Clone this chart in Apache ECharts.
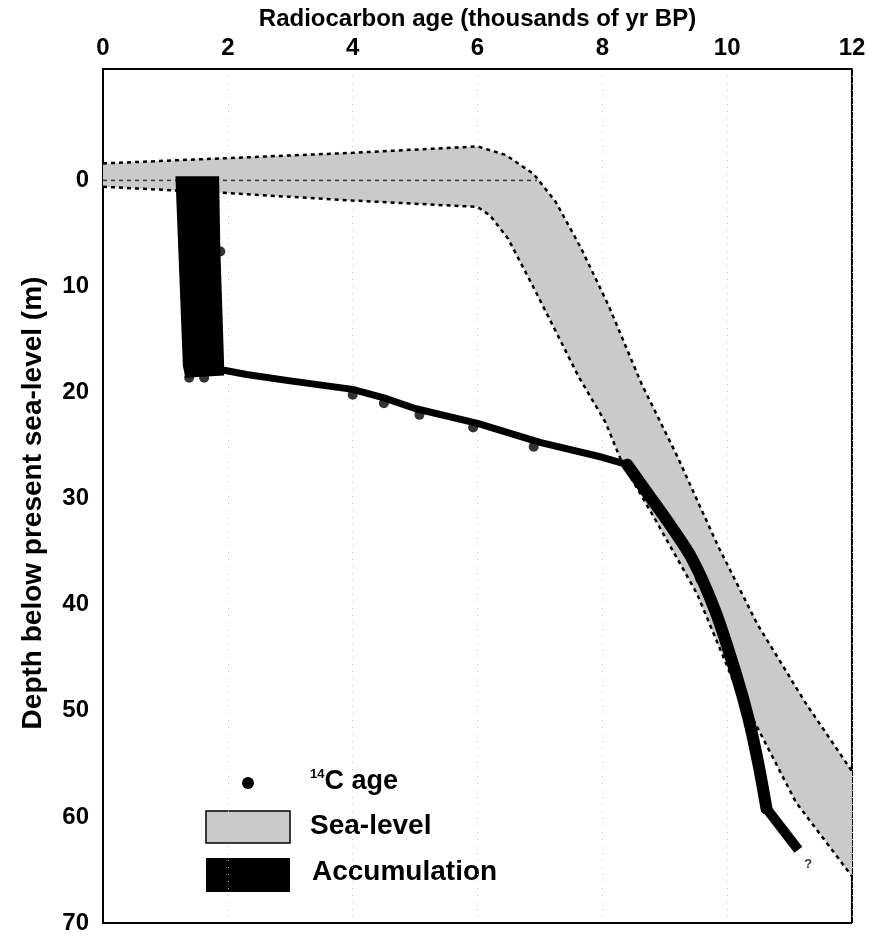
<!DOCTYPE html>
<html>
<head>
<meta charset="utf-8">
<script src="https://cdn.jsdelivr.net/npm/echarts@6/dist/echarts.min.js"></script>
<style>
  html, body { margin: 0; padding: 0; background: #fff; }
  #chart { width: 874px; height: 943px; }
</style>
</head>
<body>
<div id="chart"></div>
<script>
// x = radiocarbon age (kyr BP), y = depth below present sea-level (m)
var xTicks = [0, 2, 4, 6, 8, 10, 12];
var yTicks = [0, 10, 20, 30, 40, 50, 60, 70];

// sea-level envelope
var seaUpper = [[0, -1.6], [2, -2.1], [4, -2.6], [6, -3.2], [6.45, -2.4], [6.9, -0.6], [7.25, 2], [7.66, 6.4],
    [8.1, 11.8], [8.63, 19.2], [9.2, 26], [9.84, 34.3], [10.48, 41.8], [11.25, 49.2], [12, 55.7]];
var seaLower = [[0, 0.6], [2, 1.2], [4, 1.9], [6, 2.5], [6.2, 3.3], [6.49, 5.5], [6.89, 10], [7.62, 18.5],
    [8.05, 22.8], [8.3, 26.4], [8.87, 32.2], [9.52, 39], [10.1, 47.2], [11.1, 58.6], [12, 65.6]];
var seaZero = [[0, 0], [6.95, 0]];

// accumulation
var accBlock = [[1.16, -0.4], [1.86, -0.4], [1.88, 6.5], [1.94, 17.2], [1.94, 18.4], [1.32, 18.6], [1.28, 17.5]];
var accFlat = [[1.5, 18.1], [1.94, 17.9], [2.3, 18.3], [3, 18.9], [4, 19.7], [4.5, 20.5], [5, 21.5], [6, 22.9],
    [7, 24.7], [8, 26.1], [8.4, 26.8]];
var accSteep = [[8.4, 26.8], [8.75, 29.7], [9.1, 32.6], [9.45, 35.8], [9.81, 40.6], [10.13, 46.3], [10.34, 50.7],
    [10.5, 55], [10.63, 59.2]];
var accTail = [[10.63, 59.2], [11.14, 63.1]];

// 14C dated samples
var c14Age = [1.88, 1.38, 1.62, 4.0, 4.5, 5.07, 5.93, 6.9, 9.57, 10.62];
var c14Depth = [6.7, 18.6, 18.6, 20.2, 21.0, 22.1, 23.3, 25.1, 37.6, 59.3];

var boldFont = "'Liberation Sans', Arial, sans-serif";

function polygonItem(points, color) {
    return function(params, api) {
        var pts = points.map(function(p) { return api.coord(p); });
        return { type: 'polygon', shape: { points: pts }, style: { fill: color } };
    };
}

var chart = echarts.init(document.getElementById('chart'));
chart.setOption({
    backgroundColor: '#fff',
    animation: false,
    grid: { left: 103, right: 22, top: 69, bottom: 20, show: false, outerBoundsMode: 'none', containLabel: false },
    xAxis: {
        type: 'value', position: 'top', min: 0, max: 12, interval: 2,
        name: 'Radiocarbon age (thousands of yr BP)',
        nameLocation: 'middle', nameGap: 38,
        nameTextStyle: { fontFamily: boldFont, fontWeight: 'bold', fontSize: 24, color: '#000' },
        axisLine: { show: true, onZero: false, lineStyle: { color: '#000', width: 2 } },
        axisTick: { show: false },
        axisLabel: { margin: 9, fontFamily: boldFont, fontWeight: 'bold', fontSize: 24, color: '#000' },
        splitLine: { show: true, lineStyle: { color: '#c4c4c4', width: 1, type: [1, 6] } }
    },
    yAxis: {
        type: 'value', inverse: true, min: -10.5, max: 70, interval: 0.5,
        name: 'Depth below present sea-level (m)',
        nameLocation: 'middle', nameGap: 56,
        nameTextStyle: { fontFamily: boldFont, fontWeight: 'bold', fontSize: 28, color: '#000', padding: [0, 14, 0, 0] },
        axisLine: { show: true, onZero: false, lineStyle: { color: '#000', width: 2 } },
        axisTick: { show: false },
        axisLabel: {
            margin: 14, fontFamily: boldFont, fontWeight: 'bold', fontSize: 24, color: '#000',
            formatter: function(v) { return yTicks.indexOf(v) >= 0 ? String(v) : ''; }
        },
        splitLine: { show: false }
    },
    graphic: [
        // right and bottom frame
        { type: 'line', shape: { x1: 852, y1: 69, x2: 852, y2: 923 }, style: { stroke: '#000', lineWidth: 2 } },
        { type: 'line', shape: { x1: 103, y1: 923, x2: 852, y2: 923 }, style: { stroke: '#000', lineWidth: 2 } },
        // legend
        { type: 'circle', shape: { cx: 248, cy: 783, r: 6 }, style: { fill: '#000' } },
        { type: 'text', left: 310, top: 768, style: {
            text: '{s|14}{t|C age}',
            rich: {
                s: { fontFamily: boldFont, fontWeight: 'bold', fontSize: 13, verticalAlign: 'top', padding: [0, 0, 10, 0] },
                t: { fontFamily: boldFont, fontWeight: 'bold', fontSize: 27 }
            }, fill: '#000' } },
        { type: 'rect', shape: { x: 206, y: 811, width: 84, height: 32 }, style: { fill: '#c9c9c9', stroke: '#000', lineWidth: 1.5 } },
        { type: 'text', left: 310, top: 812, style: { text: 'Sea-level', fontFamily: boldFont, fontWeight: 'bold', fontSize: 28, fill: '#000' } },
        { type: 'rect', shape: { x: 206, y: 858, width: 84, height: 34 }, style: { fill: '#000' } },
        { type: 'text', left: 312, top: 858, style: { text: 'Accumulation', fontFamily: boldFont, fontWeight: 'bold', fontSize: 28, fill: '#000' } }
    ],
    series: [
        {
            name: 'Sea-level', type: 'custom', coordinateSystem: 'cartesian2d',
            renderItem: polygonItem(seaUpper.concat(seaLower.slice().reverse()), '#cacaca'),
            data: [[0, 0]], silent: true, z: 1
        },
        { type: 'line', data: seaUpper, symbol: 'none', z: 2, lineStyle: { color: '#000', width: 2.5, type: [4, 4] } },
        { type: 'line', data: seaLower, symbol: 'none', z: 2, lineStyle: { color: '#000', width: 2.5, type: [4, 4] } },
        { type: 'line', data: seaZero, symbol: 'none', z: 2, lineStyle: { color: '#333', width: 1.5, type: [4, 4] } },
        {
            name: 'Accumulation', type: 'custom', coordinateSystem: 'cartesian2d',
            renderItem: polygonItem(accBlock, '#000'),
            data: [[1.5, 9]], silent: true, z: 3
        },
        { type: 'line', data: accFlat, symbol: 'none', z: 3, lineStyle: { color: '#000', width: 7, cap: 'round', join: 'round' } },
        { type: 'line', data: accSteep, symbol: 'none', smooth: 0.3, z: 3, lineStyle: { color: '#000', width: 12, cap: 'round', join: 'round' } },
        { type: 'line', data: accTail, symbol: 'none', z: 3, lineStyle: { color: '#000', width: 10, cap: 'butt' } },
        {
            name: '14C age', type: 'scatter', z: 4, symbolSize: 10,
            itemStyle: { color: '#000' },
            data: c14Age.map(function(a, i) { return [a, c14Depth[i]]; })
        },
        {
            type: 'scatter', z: 4, symbolSize: 0,
            data: [{ value: accTail[accTail.length - 1], label: {
                show: true, formatter: '?', position: [6, 8],
                fontFamily: boldFont, fontWeight: 'bold', fontSize: 13, color: '#000' } }]
        }
    ]
});
</script>
</body>
</html>
